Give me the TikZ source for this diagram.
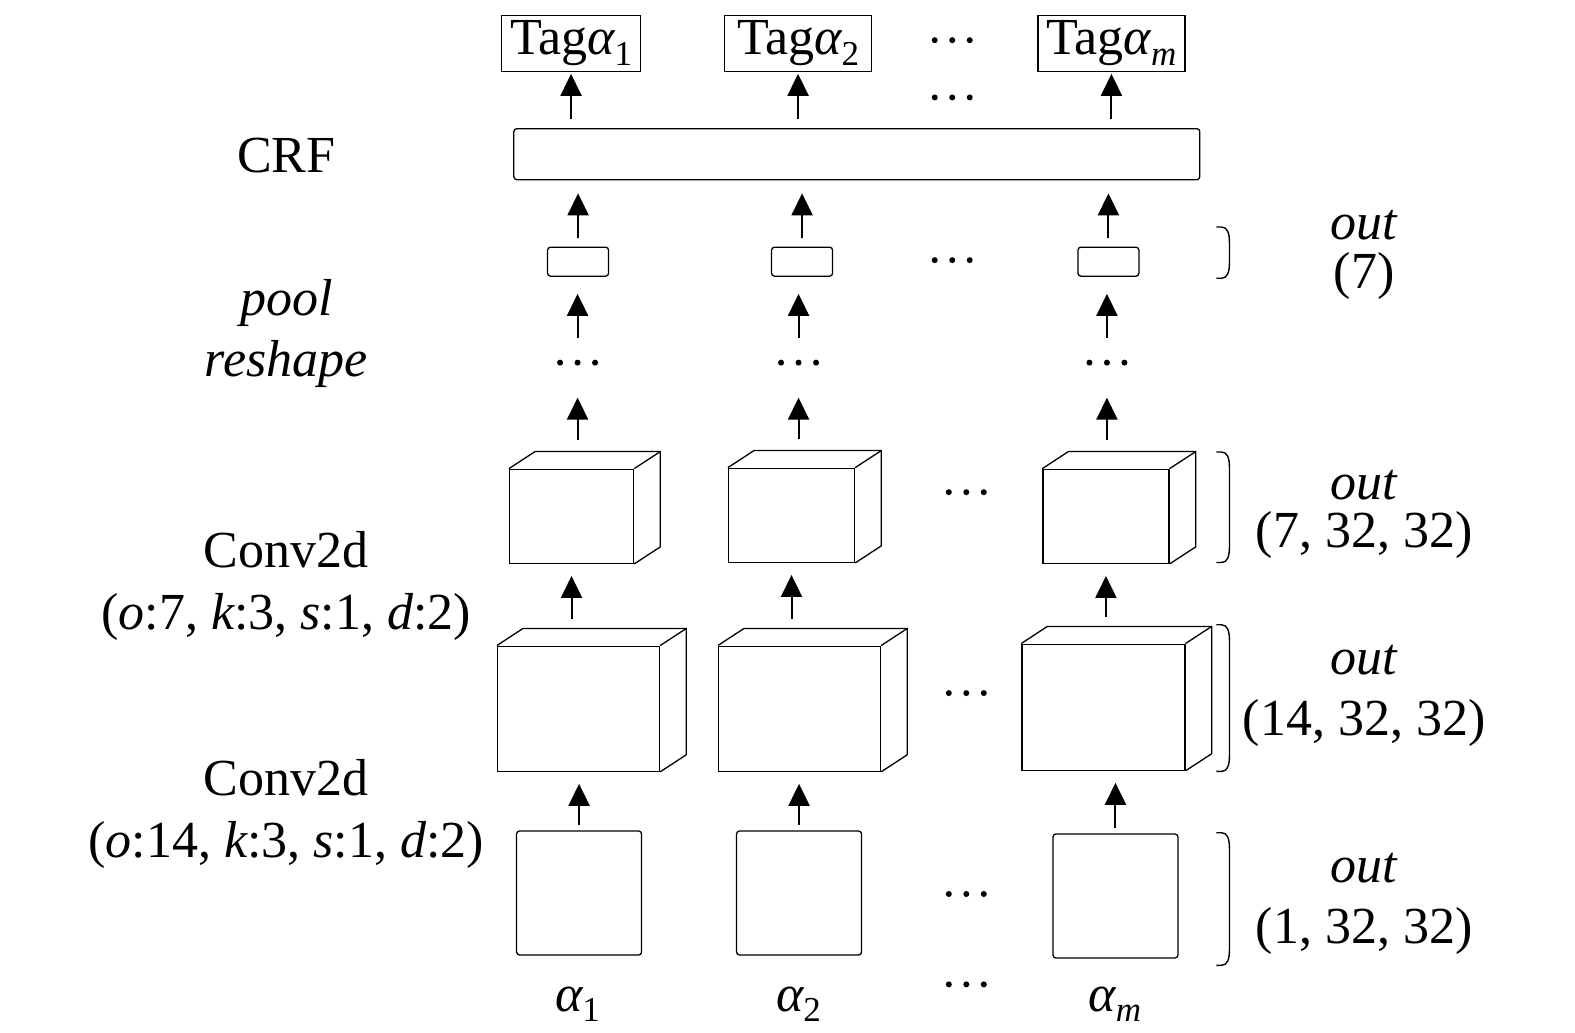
\documentclass[tikz,border=0pt]{standalone}
\usepackage{fontspec}
\setmainfont{Liberation Serif}
\usetikzlibrary{arrows.meta}
\newcommand{\sbs}[1]{\raisebox{-0.2em}{\fontsize{35}{35}\selectfont #1}}
\begin{document}
\begin{tikzpicture}[x=1.0045pt,y=-1.0045pt,
  every node/.style={font=\fontsize{52}{60}\selectfont},
  lbl/.style={inner sep=0pt, text height=35pt, text depth=1pt},
  box/.style={draw, line width=1.3pt, inner sep=0pt},
  rbox/.style={box, rounded corners=3pt},
  arr/.style={line width=2pt, -{Triangle[length=22pt,width=21pt]}},
  brk/.style={line width=1.4pt},
  cube/.style={line width=1.3pt}
]
\useasboundingbox (0,0) rectangle (1568,1028);

\newcommand{\dotsat}[3]{%
  \coordinate (#1) at (#2,#3);
  \foreach \dx in {-17.5,0,17.5}{\fill ([xshift=\dx pt]#1) circle (3pt);}%
}

% tags
\node[box, minimum width=139pt, minimum height=56pt] (tag1) at (568.5,43) {Tag{\itshape α}\sbs{1}};
\node[box, minimum width=147pt, minimum height=56pt] (tag2) at (794.5,43) {Tag{\itshape α}\sbs{2}};
\node[box, minimum width=147pt, minimum height=56pt] (tagm) at (1106.5,43) {Tag{\itshape α}\sbs{\itshape m}};
\dotsat{td1}{948}{40}
\dotsat{td2}{948}{97}

% CRF
\node[rbox, minimum width=686pt, minimum height=51pt] (crf) at (853,153.5) {};
\node[lbl] (lcrf) at (285,155) {CRF};

% small boxes
\node[rbox, minimum width=61pt, minimum height=29pt] (p1) at (575.5,260.5) {};
\node[rbox, minimum width=61pt, minimum height=29pt] (p2) at (798.5,260.5) {};
\node[rbox, minimum width=61pt, minimum height=29pt] (pm) at (1103.5,260.5) {};
\dotsat{pd}{948}{259}

% dots row
\dotsat{d1}{575}{361}
\dotsat{d2}{795}{361}
\dotsat{dm}{1102}{361}

\node[lbl] (lpool) at (285,297) {\itshape pool};
\node[lbl] (lresh) at (285,358) {\itshape reshape};

% cubes row 1
\node[box, minimum width=124pt, minimum height=94pt] (c11) at (569,514) {};
\node[box, minimum width=126pt, minimum height=94pt] (c12) at (788,513) {};
\node[box, minimum width=126pt, minimum height=94pt] (c1m) at (1101,514) {};
\dotsat{cd1}{962}{490}

% cubes row 2
\node[box, minimum width=162pt, minimum height=125pt] (c21) at (576,705.5) {};
\node[box, minimum width=162pt, minimum height=125pt] (c22) at (796,705.5) {};
\node[box, minimum width=163pt, minimum height=126pt] (c2m) at (1098.5,704) {};
\dotsat{cd2}{962}{690}

\foreach \c in {c11,c12,c1m,c21,c22,c2m}{
  \draw[cube] (\c.north west) -- ++(26,-17) -- ([shift={(26,-17)}]\c.north east)
     -- ([shift={(26,-17)}]\c.south east) -- (\c.south east);
  \draw[cube] (\c.north east) -- ++(26,-17);
}

% bottom boxes
\node[rbox, minimum width=125pt, minimum height=124pt] (b1) at (576.5,889) {};
\node[rbox, minimum width=125pt, minimum height=124pt] (b2) at (795.5,889) {};
\node[rbox, minimum width=125pt, minimum height=124pt] (bm) at (1110.5,892) {};
\dotsat{bd}{962}{890}

% input labels
\node[lbl] (a1) at (575,990) {{\itshape α}\sbs{1}};
\node[lbl] (a2) at (795,990) {{\itshape α}\sbs{2}};
\node[lbl] (am) at (1110,990) {{\itshape α}\sbs{\itshape m}};
\dotsat{ad}{962}{980}

% left labels
\node[lbl] (lconv1) at (285,548) {Conv2d};
\node[lbl] (lpar1) at (285,610) {({\itshape o}:7, {\itshape k}:3, {\itshape s}:1, {\itshape d}:2)};
\node[lbl] (lconv2) at (285,775) {Conv2d};
\node[lbl] (lpar2) at (285,837) {({\itshape o}:14, {\itshape k}:3, {\itshape s}:1, {\itshape d}:2)};

% right labels
\node[lbl] (o1) at (1358,222) {\itshape out};
\node[lbl] (s1) at (1358,270) {(7)};
\node[lbl] (o2) at (1358,480) {\itshape out};
\node[lbl] (s2) at (1358,528) {(7, 32, 32)};
\node[lbl] (o3) at (1358,655) {\itshape out};
\node[lbl] (s3) at (1358,715) {(14, 32, 32)};
\node[lbl] (o4) at (1358,862) {\itshape out};
\node[lbl] (s4) at (1358,922) {(1, 32, 32)};

% brackets
\foreach \ya/\yb in {226/277, 450/560, 622/768, 829/961}{
  \draw[brk] (1211,\ya) -- (1216,\ya) .. controls (1222,\ya) and (1224,\ya+6) .. (1224,\ya+16)
     -- (1224,\yb-16) .. controls (1224,\yb-6) and (1222,\yb) .. (1216,\yb) -- (1211,\yb);
}

% arrows
\foreach \b/\c/\cc/\d/\p/\t in {b1/c21/c11/d1/p1/tag1, b2/c22/c12/d2/p2/tag2, bm/c2m/c1m/dm/pm/tagm}{
  \draw[arr, shorten <=5pt, shorten >=12pt] (\b.north) -- (\b.north |- \c.south);
  \draw[arr, shorten <=27pt, shorten >=12pt] (\cc.south |- \c.north) -- (\cc.south);
  \draw[arr, shorten <=29pt, shorten >=35pt] (\d |- \cc.north) -- (\d);
  \draw[arr, shorten <=25pt, shorten >=17pt] (\d) -- (\d |- \p.south);
  \draw[arr, shorten <=9pt, shorten >=13pt] (\p.north) -- (\p.north |- crf.south);
  \draw[arr, shorten <=9pt, shorten >=2pt] (\t.south |- crf.north) -- (\t.south);
}
\end{tikzpicture}
\end{document}
